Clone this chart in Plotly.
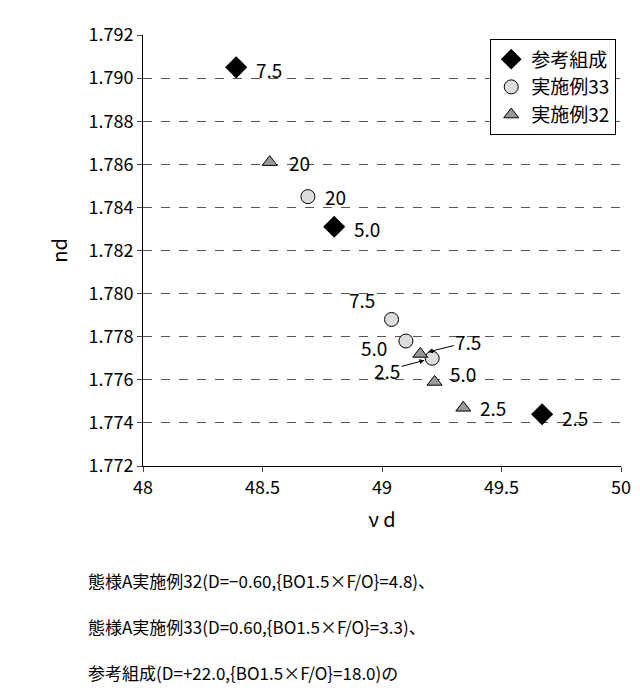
import plotly.graph_objects as go

ref_x = [48.39, 48.80, 49.67]; ref_y = [1.7905, 1.7831, 1.7744]; ref_t = ["7.5", "5.0", "2.5"]
e33_x = [48.69, 49.04, 49.10, 49.21]; e33_y = [1.7845, 1.7788, 1.7778, 1.7770]; e33_t = ["20", "7.5", "5.0", "2.5"]
e32_x = [48.53, 49.16, 49.22, 49.34]; e32_y = [1.7861, 1.7772, 1.7759, 1.7747]; e32_t = ["20", "7.5", "5.0", "2.5"]
yticks = [1.772, 1.774, 1.776, 1.778, 1.780, 1.782, 1.784, 1.786, 1.788, 1.790, 1.792]
caption = ["態様A実施例32(D=−0.60,{BO1.5×F/O}=4.8)、",
           "態様A実施例33(D=0.60,{BO1.5×F/O}=3.3)、",
           "参考組成(D=+22.0,{BO1.5×F/O}=18.0)の",
           "nd、νdの時間変化（添え字は熔解時間[時間]）"]

F = "Noto Sans CJK JP"
fig = go.Figure()
fig.add_trace(go.Scatter(x=ref_x, y=ref_y, mode="markers", name="参考組成",
    marker=dict(symbol="diamond", size=17, color="black")))
fig.add_trace(go.Scatter(x=e33_x, y=e33_y, mode="markers", name="実施例33",
    marker=dict(symbol="circle", size=14, color="#dddddd", line=dict(color="black", width=1))))
fig.add_trace(go.Scatter(x=e32_x, y=e32_y, mode="markers", name="実施例32",
    marker=dict(symbol="triangle-up", size=13, color="#999999", line=dict(color="black", width=1))))

def lab(x, y, t, ax, ay, arrow=False):
    fig.add_annotation(x=x, y=y, text=t, showarrow=True, arrowhead=2 if arrow else 0,
        arrowwidth=1, arrowcolor="black" if arrow else "rgba(0,0,0,0)",
        ax=ax, ay=ay, standoff=8 if arrow else 0, font=dict(size=19, color="black", family=F))

lab(ref_x[0], ref_y[0], ref_t[0], 33, 2); lab(ref_x[1], ref_y[1], ref_t[1], 33, 2); lab(ref_x[2], ref_y[2], ref_t[2], 33, 3)
lab(e33_x[0], e33_y[0], e33_t[0], 28, 0); lab(e33_x[1], e33_y[1], e33_t[1], -30, -20)
lab(e33_x[2], e33_y[2], e33_t[2], -32, 6); lab(e33_x[3], e33_y[3], e33_t[3], -45, 12, True)
lab(e32_x[0], e32_y[0], e32_t[0], 30, 0); lab(e32_x[1], e32_y[1], e32_t[1], 48, -12, True)
lab(e32_x[2], e32_y[2], e32_t[2], 28, -8); lab(e32_x[3], e32_y[3], e32_t[3], 30, 0)

for i, c in enumerate(caption):
    fig.add_annotation(xref="paper", yref="paper", x=-0.12 if i < 3 else -0.1, y=-0.3 - i * 0.067 * 693 / 436,
        text=c, showarrow=False, xanchor="left", font=dict(size=17, color="black", family=F))

fig.update_layout(width=640, height=693, margin=dict(l=135, r=27, t=22, b=235),
    plot_bgcolor="white", paper_bgcolor="white", font=dict(family=F, color="black", size=18),
    legend=dict(x=0.99, y=0.99, xanchor="right", yanchor="top", bordercolor="black", borderwidth=1,
                font=dict(size=19), bgcolor="white"),
    xaxis=dict(range=[48, 50], tickvals=[48, 48.5, 49, 49.5, 50], ticktext=["48", "48.5", "49", "49.5", "50"],
               showgrid=False, showline=True, linecolor="black", ticks="outside", zeroline=False,
               title=dict(text="ν d", font=dict(size=20))),
    yaxis=dict(range=[1.772, 1.792], tickvals=yticks, tickformat=".3f", showgrid=True, gridcolor="#555",
               griddash="dash", gridwidth=0.8, showline=True, linecolor="black", ticks="outside", zeroline=False,
               title=dict(text="nd", font=dict(size=20))))
fig.write_html("out.html")
